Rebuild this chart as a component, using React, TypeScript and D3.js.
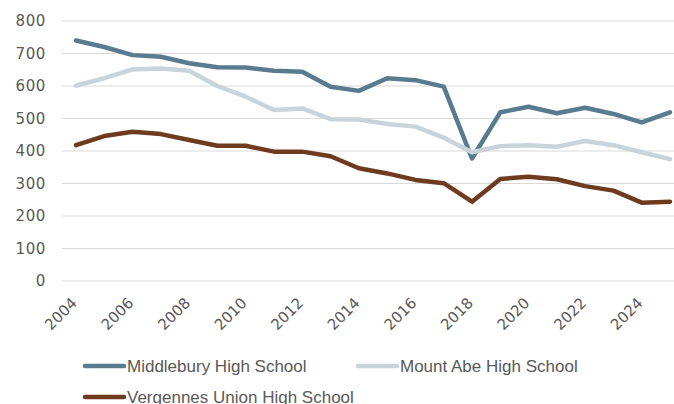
import React, { useEffect, useRef } from "react";
import * as d3 from "d3";

const years = d3.range(2004, 2026);
const tickYears = [2004, 2006, 2008, 2010, 2012, 2014, 2016, 2018, 2020, 2022, 2024];
const yTicks = [0, 100, 200, 300, 400, 500, 600, 700, 800];

const middlebury = [740, 720, 695, 690, 670, 658, 657, 647, 644, 598, 585, 624, 618, 598, 377, 519, 536, 516, 533, 514, 488, 519];
const mountAbe = [601, 624, 651, 654, 647, 600, 567, 526, 531, 498, 497, 483, 475, 441, 396, 415, 418, 413, 431, 418, 396, 375];
const vergennes = [418, 446, 459, 452, 434, 416, 416, 398, 398, 384, 347, 331, 311, 301, 244, 314, 321, 313, 292, 278, 241, 244];

const seriesNames = ["Middlebury High School", "Mount Abe High School", "Vergennes Union High School"];
const seriesColors = ["#587b8f", "#c8d4da", "#6e3b1f"];

const App = () => {
  const svgRef = useRef<SVGSVGElement>(null);

  useEffect(() => {
    const width = 674,
      height = 404;
    const tickFont = "'DejaVu Sans', sans-serif";
    const legendFont = "'Liberation Sans', Arial, sans-serif";
    const textColor = "#595959";

    const svg = d3.select(svgRef.current).attr("width", width).attr("height", height).html("");

    const x = d3.scaleLinear().domain([2004, 2025]).range([76, 670]);
    const y = d3.scaleLinear().domain([0, 800]).range([281, 21]);

    // gridlines
    svg
      .append("g")
      .selectAll("line")
      .data(yTicks)
      .enter()
      .append("line")
      .attr("x1", 62)
      .attr("x2", width)
      .attr("y1", (d) => y(d))
      .attr("y2", (d) => y(d))
      .attr("stroke", "#d9d9d9")
      .attr("stroke-width", 1);

    // y labels
    svg
      .append("g")
      .selectAll("text")
      .data(yTicks)
      .enter()
      .append("text")
      .attr("x", 46)
      .attr("y", (d) => y(d))
      .attr("dy", "0.36em")
      .attr("text-anchor", "end")
      .style("font-family", tickFont)
      .style("font-size", "15px")
      .style("letter-spacing", "0.6px")
      .style("fill", textColor)
      .text((d) => d);

    // x labels, rotated
    svg
      .append("g")
      .selectAll("text")
      .data(tickYears)
      .enter()
      .append("text")
      .attr("transform", (d) => `translate(${x(d) + 2}, ${304}) rotate(-45)`)
      .attr("text-anchor", "end")
      .style("font-family", tickFont)
      .style("font-size", "15px")
      .style("fill", textColor)
      .text((d) => d);

    const line = d3
      .line<number>()
      .x((_, i) => x(years[i]))
      .y((d) => y(d));

    [middlebury, mountAbe, vergennes].forEach((vals, i) => {
      svg
        .append("path")
        .attr("d", line(vals))
        .attr("fill", "none")
        .attr("stroke", seriesColors[i])
        .attr("stroke-width", 4.5)
        .attr("stroke-linejoin", "round")
        .attr("stroke-linecap", "round");
    });

    // legend
    const legendPos = [
      { x: 85, y: 366 },
      { x: 358, y: 366 },
      { x: 85, y: 397 },
    ];
    seriesNames.forEach((name, i) => {
      const p = legendPos[i];
      const g = svg.append("g").attr("transform", `translate(${p.x}, ${p.y})`);
      g.append("line")
        .attr("x1", 0)
        .attr("x2", 39)
        .attr("y1", 0)
        .attr("y2", 0)
        .attr("stroke", seriesColors[i])
        .attr("stroke-width", 4.5)
        .attr("stroke-linecap", "round");
      g.append("text")
        .attr("x", 42)
        .attr("dy", "0.36em")
        .style("font-family", legendFont)
        .style("font-size", "17px")
        .style("fill", textColor)
        .text(name);
    });
  }, []);

  return <svg ref={svgRef} style={{ position: "absolute", left: 0, top: 0 }}></svg>;
};

export default App;
